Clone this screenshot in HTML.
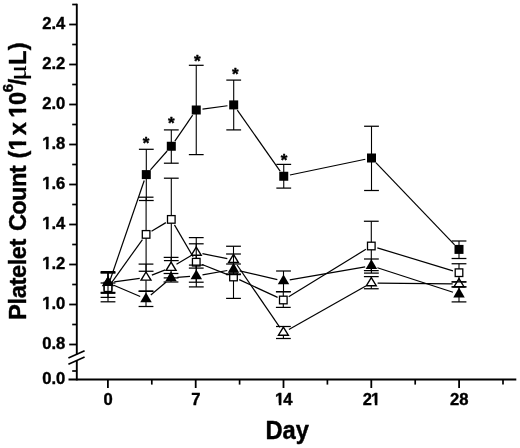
<!DOCTYPE html>
<html><head><meta charset="utf-8"><title>Platelet Count</title>
<style>
html,body{margin:0;padding:0;background:#fff;}
body{width:520px;height:448px;overflow:hidden;}
svg{display:block;filter:grayscale(1);}
text{font-family:"Liberation Sans", Arial, Helvetica, sans-serif;font-weight:bold;fill:#000;stroke:#000;stroke-width:0.4px;stroke-linejoin:round;}
.tk{font-size:16.6px;}
.ttl{font-size:23.6px;}
.ast{font-size:17px;}
</style></head><body>
<svg width="520" height="448" viewBox="0 0 520 448">
<rect width="520" height="448" fill="#fff"/>
<line x1="76.80" y1="3.80" x2="76.80" y2="354.30" stroke="#000" stroke-width="1.9" />
<line x1="76.80" y1="360.70" x2="76.80" y2="380.45" stroke="#000" stroke-width="1.9" />
<line x1="68.50" y1="379.50" x2="516.30" y2="379.50" stroke="#000" stroke-width="1.9" />
<line x1="69.20" y1="24.50" x2="76.80" y2="24.50" stroke="#000" stroke-width="1.8" />
<text x="42.23" y="29.40" class="tk">2.4</text>
<line x1="69.20" y1="64.50" x2="76.80" y2="64.50" stroke="#000" stroke-width="1.8" />
<text x="42.23" y="69.40" class="tk">2.2</text>
<line x1="69.20" y1="104.50" x2="76.80" y2="104.50" stroke="#000" stroke-width="1.8" />
<text x="42.23" y="109.40" class="tk">2.0</text>
<line x1="69.20" y1="144.50" x2="76.80" y2="144.50" stroke="#000" stroke-width="1.8" />
<text y="149.40" class="tk"><tspan x="42.23">1</tspan><tspan x="51.46">.8</tspan></text>
<rect x="42.23" y="146.99" width="3.72" height="4.11" fill="#fff"/>
<rect x="48.55" y="146.99" width="3.57" height="4.11" fill="#fff"/>
<line x1="69.20" y1="184.50" x2="76.80" y2="184.50" stroke="#000" stroke-width="1.8" />
<text y="189.40" class="tk"><tspan x="42.23">1</tspan><tspan x="51.46">.6</tspan></text>
<rect x="42.23" y="186.99" width="3.72" height="4.11" fill="#fff"/>
<rect x="48.55" y="186.99" width="3.57" height="4.11" fill="#fff"/>
<line x1="69.20" y1="224.50" x2="76.80" y2="224.50" stroke="#000" stroke-width="1.8" />
<text y="229.40" class="tk"><tspan x="42.23">1</tspan><tspan x="51.46">.4</tspan></text>
<rect x="42.23" y="226.99" width="3.72" height="4.11" fill="#fff"/>
<rect x="48.55" y="226.99" width="3.57" height="4.11" fill="#fff"/>
<line x1="69.20" y1="264.50" x2="76.80" y2="264.50" stroke="#000" stroke-width="1.8" />
<text y="269.40" class="tk"><tspan x="42.23">1</tspan><tspan x="51.46">.2</tspan></text>
<rect x="42.23" y="266.99" width="3.72" height="4.11" fill="#fff"/>
<rect x="48.55" y="266.99" width="3.57" height="4.11" fill="#fff"/>
<line x1="69.20" y1="304.50" x2="76.80" y2="304.50" stroke="#000" stroke-width="1.8" />
<text y="309.40" class="tk"><tspan x="42.23">1</tspan><tspan x="51.46">.0</tspan></text>
<rect x="42.23" y="306.99" width="3.72" height="4.11" fill="#fff"/>
<rect x="48.55" y="306.99" width="3.57" height="4.11" fill="#fff"/>
<line x1="69.20" y1="344.50" x2="76.80" y2="344.50" stroke="#000" stroke-width="1.8" />
<text x="42.23" y="349.40" class="tk">0.8</text>
<text x="42.23" y="384.40" class="tk">0.0</text>
<line x1="72.20" y1="4.50" x2="76.80" y2="4.50" stroke="#000" stroke-width="1.7" />
<line x1="72.20" y1="44.50" x2="76.80" y2="44.50" stroke="#000" stroke-width="1.7" />
<line x1="72.20" y1="84.50" x2="76.80" y2="84.50" stroke="#000" stroke-width="1.7" />
<line x1="72.20" y1="124.50" x2="76.80" y2="124.50" stroke="#000" stroke-width="1.7" />
<line x1="72.20" y1="164.50" x2="76.80" y2="164.50" stroke="#000" stroke-width="1.7" />
<line x1="72.20" y1="204.50" x2="76.80" y2="204.50" stroke="#000" stroke-width="1.7" />
<line x1="72.20" y1="244.50" x2="76.80" y2="244.50" stroke="#000" stroke-width="1.7" />
<line x1="72.20" y1="284.50" x2="76.80" y2="284.50" stroke="#000" stroke-width="1.7" />
<line x1="72.20" y1="324.50" x2="76.80" y2="324.50" stroke="#000" stroke-width="1.7" />
<line x1="72.20" y1="371.00" x2="76.80" y2="371.00" stroke="#000" stroke-width="1.7" />
<line x1="68.40" y1="358.10" x2="84.60" y2="350.70" stroke="#000" stroke-width="1.6" />
<line x1="68.40" y1="364.20" x2="84.60" y2="357.00" stroke="#000" stroke-width="1.6" />
<line x1="107.90" y1="379.50" x2="107.90" y2="388.00" stroke="#000" stroke-width="1.8" />
<text x="103.49" y="405.3" class="tk">0</text>
<line x1="195.70" y1="379.50" x2="195.70" y2="388.00" stroke="#000" stroke-width="1.8" />
<text x="191.29" y="405.3" class="tk">7</text>
<line x1="283.50" y1="379.50" x2="283.50" y2="388.00" stroke="#000" stroke-width="1.8" />
<text y="405.3" class="tk"><tspan x="275.07">1</tspan><tspan x="283.20">4</tspan></text>
<rect x="275.07" y="402.89" width="3.72" height="4.11" fill="#fff"/>
<rect x="281.39" y="402.89" width="3.15" height="4.11" fill="#fff"/>
<line x1="371.30" y1="379.50" x2="371.30" y2="388.00" stroke="#000" stroke-width="1.8" />
<text y="405.3" class="tk"><tspan x="362.67">2</tspan><tspan x="371.10">1</tspan></text>
<rect x="371.68" y="402.89" width="3.14" height="4.11" fill="#fff"/>
<rect x="377.42" y="402.89" width="3.57" height="4.11" fill="#fff"/>
<line x1="459.10" y1="379.50" x2="459.10" y2="388.00" stroke="#000" stroke-width="1.8" />
<text x="450.07" y="405.3" class="tk">28</text>
<line x1="151.80" y1="379.50" x2="151.80" y2="384.60" stroke="#000" stroke-width="1.7" />
<line x1="239.60" y1="379.50" x2="239.60" y2="384.60" stroke="#000" stroke-width="1.7" />
<line x1="327.40" y1="379.50" x2="327.40" y2="384.60" stroke="#000" stroke-width="1.7" />
<line x1="415.20" y1="379.50" x2="415.20" y2="384.60" stroke="#000" stroke-width="1.7" />
<line x1="503.00" y1="379.50" x2="503.00" y2="384.60" stroke="#000" stroke-width="1.7" />
<line x1="110.05" y1="280.24" x2="144.25" y2="180.56" stroke="#000" stroke-width="1.2" />
<line x1="150.47" y1="169.87" x2="167.13" y2="150.98" stroke="#000" stroke-width="1.2" />
<line x1="174.87" y1="141.06" x2="192.68" y2="115.19" stroke="#000" stroke-width="1.2" />
<line x1="202.49" y1="109.15" x2="227.46" y2="105.75" stroke="#000" stroke-width="1.2" />
<line x1="237.32" y1="110.06" x2="280.13" y2="171.09" stroke="#000" stroke-width="1.2" />
<line x1="289.92" y1="174.97" x2="365.33" y2="159.28" stroke="#000" stroke-width="1.2" />
<line x1="375.86" y1="162.55" x2="454.64" y2="244.85" stroke="#000" stroke-width="1.2" />
<line x1="108.00" y1="273.00" x2="108.00" y2="297.40" stroke="#000" stroke-width="1.1" />
<line x1="100.60" y1="273.00" x2="115.40" y2="273.00" stroke="#000" stroke-width="1.25" />
<line x1="100.60" y1="297.40" x2="115.40" y2="297.40" stroke="#000" stroke-width="1.25" />
<line x1="146.30" y1="149.30" x2="146.30" y2="200.50" stroke="#000" stroke-width="1.1" />
<line x1="138.90" y1="149.30" x2="153.70" y2="149.30" stroke="#000" stroke-width="1.25" />
<line x1="138.90" y1="200.50" x2="153.70" y2="200.50" stroke="#000" stroke-width="1.25" />
<line x1="171.30" y1="129.90" x2="171.30" y2="163.20" stroke="#000" stroke-width="1.1" />
<line x1="163.90" y1="129.90" x2="178.70" y2="129.90" stroke="#000" stroke-width="1.25" />
<line x1="163.90" y1="163.20" x2="178.70" y2="163.20" stroke="#000" stroke-width="1.25" />
<line x1="196.25" y1="65.30" x2="196.25" y2="154.60" stroke="#000" stroke-width="1.1" />
<line x1="188.85" y1="65.30" x2="203.65" y2="65.30" stroke="#000" stroke-width="1.25" />
<line x1="188.85" y1="154.60" x2="203.65" y2="154.60" stroke="#000" stroke-width="1.25" />
<line x1="233.70" y1="80.10" x2="233.70" y2="129.90" stroke="#000" stroke-width="1.1" />
<line x1="226.30" y1="80.10" x2="241.10" y2="80.10" stroke="#000" stroke-width="1.25" />
<line x1="226.30" y1="129.90" x2="241.10" y2="129.90" stroke="#000" stroke-width="1.25" />
<line x1="283.75" y1="164.40" x2="283.75" y2="188.10" stroke="#000" stroke-width="1.1" />
<line x1="276.35" y1="164.40" x2="291.15" y2="164.40" stroke="#000" stroke-width="1.25" />
<line x1="276.35" y1="188.10" x2="291.15" y2="188.10" stroke="#000" stroke-width="1.25" />
<line x1="371.50" y1="126.25" x2="371.50" y2="190.50" stroke="#000" stroke-width="1.1" />
<line x1="364.10" y1="126.25" x2="378.90" y2="126.25" stroke="#000" stroke-width="1.25" />
<line x1="364.10" y1="190.50" x2="378.90" y2="190.50" stroke="#000" stroke-width="1.25" />
<line x1="459.00" y1="241.00" x2="459.00" y2="258.50" stroke="#000" stroke-width="1.1" />
<line x1="451.60" y1="241.00" x2="466.40" y2="241.00" stroke="#000" stroke-width="1.25" />
<line x1="451.60" y1="258.50" x2="466.40" y2="258.50" stroke="#000" stroke-width="1.25" />
<rect x="103.50" y="281.70" width="9" height="9" fill="#000"/>
<rect x="141.80" y="170.10" width="9" height="9" fill="#000"/>
<rect x="166.80" y="141.75" width="9" height="9" fill="#000"/>
<rect x="191.75" y="105.50" width="9" height="9" fill="#000"/>
<rect x="229.20" y="100.40" width="9" height="9" fill="#000"/>
<rect x="279.25" y="171.75" width="9" height="9" fill="#000"/>
<rect x="367.00" y="153.50" width="9" height="9" fill="#000"/>
<rect x="454.50" y="244.90" width="9" height="9" fill="#000"/>
<line x1="114.24" y1="281.91" x2="139.76" y2="278.29" stroke="#000" stroke-width="1.2" />
<line x1="151.87" y1="275.11" x2="165.23" y2="269.89" stroke="#000" stroke-width="1.2" />
<line x1="176.50" y1="264.36" x2="190.85" y2="255.74" stroke="#000" stroke-width="1.2" />
<line x1="202.43" y1="253.71" x2="227.32" y2="258.59" stroke="#000" stroke-width="1.2" />
<line x1="237.07" y1="264.99" x2="279.83" y2="327.31" stroke="#000" stroke-width="1.2" />
<line x1="288.89" y1="329.41" x2="365.81" y2="286.09" stroke="#000" stroke-width="1.2" />
<line x1="377.60" y1="283.07" x2="452.70" y2="283.93" stroke="#000" stroke-width="1.2" />
<line x1="108.00" y1="283.00" x2="108.00" y2="293.30" stroke="#000" stroke-width="1.1" />
<line x1="100.60" y1="283.00" x2="115.40" y2="283.00" stroke="#000" stroke-width="1.25" />
<line x1="100.60" y1="293.30" x2="115.40" y2="293.30" stroke="#000" stroke-width="1.25" />
<line x1="146.00" y1="264.10" x2="146.00" y2="291.00" stroke="#000" stroke-width="1.1" />
<line x1="138.60" y1="264.10" x2="153.40" y2="264.10" stroke="#000" stroke-width="1.25" />
<line x1="138.60" y1="291.00" x2="153.40" y2="291.00" stroke="#000" stroke-width="1.25" />
<line x1="171.10" y1="257.40" x2="171.10" y2="277.90" stroke="#000" stroke-width="1.1" />
<line x1="163.70" y1="257.40" x2="178.50" y2="257.40" stroke="#000" stroke-width="1.25" />
<line x1="163.70" y1="277.90" x2="178.50" y2="277.90" stroke="#000" stroke-width="1.25" />
<line x1="196.25" y1="237.60" x2="196.25" y2="268.10" stroke="#000" stroke-width="1.1" />
<line x1="188.85" y1="237.60" x2="203.65" y2="237.60" stroke="#000" stroke-width="1.25" />
<line x1="188.85" y1="268.10" x2="203.65" y2="268.10" stroke="#000" stroke-width="1.25" />
<line x1="233.50" y1="246.25" x2="233.50" y2="274.00" stroke="#000" stroke-width="1.1" />
<line x1="226.10" y1="246.25" x2="240.90" y2="246.25" stroke="#000" stroke-width="1.25" />
<line x1="226.10" y1="274.00" x2="240.90" y2="274.00" stroke="#000" stroke-width="1.25" />
<line x1="283.40" y1="326.50" x2="283.40" y2="338.50" stroke="#000" stroke-width="1.1" />
<line x1="276.00" y1="326.50" x2="290.80" y2="326.50" stroke="#000" stroke-width="1.25" />
<line x1="276.00" y1="338.50" x2="290.80" y2="338.50" stroke="#000" stroke-width="1.25" />
<line x1="371.30" y1="276.60" x2="371.30" y2="288.75" stroke="#000" stroke-width="1.1" />
<line x1="363.90" y1="276.60" x2="378.70" y2="276.60" stroke="#000" stroke-width="1.25" />
<line x1="363.90" y1="288.75" x2="378.70" y2="288.75" stroke="#000" stroke-width="1.25" />
<line x1="459.00" y1="281.90" x2="459.00" y2="286.90" stroke="#000" stroke-width="1.1" />
<line x1="451.60" y1="281.90" x2="466.40" y2="281.90" stroke="#000" stroke-width="1.25" />
<line x1="451.60" y1="286.90" x2="466.40" y2="286.90" stroke="#000" stroke-width="1.25" />
<path d="M108.00 277.40 L112.95 285.55 L103.05 285.55 Z" fill="#fff" stroke="#000" stroke-width="1.4" stroke-linejoin="miter"/>
<path d="M146.00 272.00 L150.95 280.15 L141.05 280.15 Z" fill="#fff" stroke="#000" stroke-width="1.4" stroke-linejoin="miter"/>
<path d="M171.10 262.20 L176.05 270.35 L166.15 270.35 Z" fill="#fff" stroke="#000" stroke-width="1.4" stroke-linejoin="miter"/>
<path d="M196.25 247.10 L201.20 255.25 L191.30 255.25 Z" fill="#fff" stroke="#000" stroke-width="1.4" stroke-linejoin="miter"/>
<path d="M233.50 254.40 L238.45 262.55 L228.55 262.55 Z" fill="#fff" stroke="#000" stroke-width="1.4" stroke-linejoin="miter"/>
<path d="M283.40 327.10 L288.35 335.25 L278.45 335.25 Z" fill="#fff" stroke="#000" stroke-width="1.4" stroke-linejoin="miter"/>
<path d="M371.30 277.60 L376.25 285.75 L366.35 285.75 Z" fill="#fff" stroke="#000" stroke-width="1.4" stroke-linejoin="miter"/>
<path d="M459.00 278.60 L463.95 286.75 L454.05 286.75 Z" fill="#fff" stroke="#000" stroke-width="1.4" stroke-linejoin="miter"/>
<line x1="111.66" y1="282.57" x2="142.44" y2="239.53" stroke="#000" stroke-width="1.2" />
<line x1="151.51" y1="231.18" x2="165.89" y2="222.62" stroke="#000" stroke-width="1.2" />
<line x1="174.47" y1="224.84" x2="193.08" y2="256.76" stroke="#000" stroke-width="1.2" />
<line x1="202.10" y1="264.53" x2="227.65" y2="274.67" stroke="#000" stroke-width="1.2" />
<line x1="239.22" y1="279.64" x2="277.58" y2="297.36" stroke="#000" stroke-width="1.2" />
<line x1="288.67" y1="296.70" x2="365.93" y2="249.30" stroke="#000" stroke-width="1.2" />
<line x1="377.33" y1="247.83" x2="452.97" y2="270.87" stroke="#000" stroke-width="1.2" />
<line x1="108.00" y1="271.60" x2="108.00" y2="301.80" stroke="#000" stroke-width="1.1" />
<line x1="100.60" y1="271.60" x2="115.40" y2="271.60" stroke="#000" stroke-width="1.25" />
<line x1="100.60" y1="301.80" x2="115.40" y2="301.80" stroke="#000" stroke-width="1.25" />
<line x1="146.10" y1="197.20" x2="146.10" y2="271.25" stroke="#000" stroke-width="1.1" />
<line x1="138.70" y1="197.20" x2="153.50" y2="197.20" stroke="#000" stroke-width="1.25" />
<line x1="138.70" y1="271.25" x2="153.50" y2="271.25" stroke="#000" stroke-width="1.25" />
<line x1="171.30" y1="178.20" x2="171.30" y2="260.60" stroke="#000" stroke-width="1.1" />
<line x1="163.90" y1="178.20" x2="178.70" y2="178.20" stroke="#000" stroke-width="1.25" />
<line x1="163.90" y1="260.60" x2="178.70" y2="260.60" stroke="#000" stroke-width="1.25" />
<line x1="196.25" y1="243.80" x2="196.25" y2="282.20" stroke="#000" stroke-width="1.1" />
<line x1="188.85" y1="243.80" x2="203.65" y2="243.80" stroke="#000" stroke-width="1.25" />
<line x1="188.85" y1="282.20" x2="203.65" y2="282.20" stroke="#000" stroke-width="1.25" />
<line x1="233.50" y1="254.00" x2="233.50" y2="298.40" stroke="#000" stroke-width="1.1" />
<line x1="226.10" y1="254.00" x2="240.90" y2="254.00" stroke="#000" stroke-width="1.25" />
<line x1="226.10" y1="298.40" x2="240.90" y2="298.40" stroke="#000" stroke-width="1.25" />
<line x1="283.30" y1="291.80" x2="283.30" y2="307.40" stroke="#000" stroke-width="1.1" />
<line x1="275.90" y1="291.80" x2="290.70" y2="291.80" stroke="#000" stroke-width="1.25" />
<line x1="275.90" y1="307.40" x2="290.70" y2="307.40" stroke="#000" stroke-width="1.25" />
<line x1="371.30" y1="221.25" x2="371.30" y2="270.60" stroke="#000" stroke-width="1.1" />
<line x1="363.90" y1="221.25" x2="378.70" y2="221.25" stroke="#000" stroke-width="1.25" />
<line x1="363.90" y1="270.60" x2="378.70" y2="270.60" stroke="#000" stroke-width="1.25" />
<line x1="459.00" y1="263.75" x2="459.00" y2="281.90" stroke="#000" stroke-width="1.1" />
<line x1="451.60" y1="263.75" x2="466.40" y2="263.75" stroke="#000" stroke-width="1.25" />
<line x1="451.60" y1="281.90" x2="466.40" y2="281.90" stroke="#000" stroke-width="1.25" />
<rect x="104.20" y="283.90" width="7.6" height="7.6" fill="#fff" stroke="#000" stroke-width="1.3"/>
<rect x="142.30" y="230.60" width="7.6" height="7.6" fill="#fff" stroke="#000" stroke-width="1.3"/>
<rect x="167.50" y="215.60" width="7.6" height="7.6" fill="#fff" stroke="#000" stroke-width="1.3"/>
<rect x="192.45" y="258.40" width="7.6" height="7.6" fill="#fff" stroke="#000" stroke-width="1.3"/>
<rect x="229.70" y="273.20" width="7.6" height="7.6" fill="#fff" stroke="#000" stroke-width="1.3"/>
<rect x="279.50" y="296.20" width="7.6" height="7.6" fill="#fff" stroke="#000" stroke-width="1.3"/>
<rect x="367.50" y="242.20" width="7.6" height="7.6" fill="#fff" stroke="#000" stroke-width="1.3"/>
<rect x="455.20" y="268.90" width="7.6" height="7.6" fill="#fff" stroke="#000" stroke-width="1.3"/>
<line x1="113.80" y1="285.27" x2="140.20" y2="296.53" stroke="#000" stroke-width="1.2" />
<line x1="150.81" y1="294.94" x2="166.19" y2="281.96" stroke="#000" stroke-width="1.2" />
<line x1="177.28" y1="277.43" x2="190.02" y2="276.47" stroke="#000" stroke-width="1.2" />
<line x1="202.50" y1="274.90" x2="227.30" y2="270.50" stroke="#000" stroke-width="1.2" />
<line x1="239.64" y1="270.82" x2="277.36" y2="279.58" stroke="#000" stroke-width="1.2" />
<line x1="289.71" y1="279.92" x2="365.19" y2="266.83" stroke="#000" stroke-width="1.2" />
<line x1="377.39" y1="267.70" x2="453.01" y2="292.25" stroke="#000" stroke-width="1.2" />
<line x1="108.00" y1="272.60" x2="108.00" y2="292.40" stroke="#000" stroke-width="1.1" />
<line x1="100.60" y1="272.60" x2="115.40" y2="272.60" stroke="#000" stroke-width="1.25" />
<line x1="100.60" y1="292.40" x2="115.40" y2="292.40" stroke="#000" stroke-width="1.25" />
<line x1="146.00" y1="291.40" x2="146.00" y2="306.50" stroke="#000" stroke-width="1.1" />
<line x1="138.60" y1="291.40" x2="153.40" y2="291.40" stroke="#000" stroke-width="1.25" />
<line x1="138.60" y1="306.50" x2="153.40" y2="306.50" stroke="#000" stroke-width="1.25" />
<line x1="171.00" y1="273.50" x2="171.00" y2="282.00" stroke="#000" stroke-width="1.1" />
<line x1="163.60" y1="273.50" x2="178.40" y2="273.50" stroke="#000" stroke-width="1.25" />
<line x1="163.60" y1="282.00" x2="178.40" y2="282.00" stroke="#000" stroke-width="1.25" />
<line x1="196.30" y1="265.10" x2="196.30" y2="286.90" stroke="#000" stroke-width="1.1" />
<line x1="188.90" y1="265.10" x2="203.70" y2="265.10" stroke="#000" stroke-width="1.25" />
<line x1="188.90" y1="286.90" x2="203.70" y2="286.90" stroke="#000" stroke-width="1.25" />
<line x1="233.50" y1="264.00" x2="233.50" y2="274.60" stroke="#000" stroke-width="1.1" />
<line x1="226.10" y1="264.00" x2="240.90" y2="264.00" stroke="#000" stroke-width="1.25" />
<line x1="226.10" y1="274.60" x2="240.90" y2="274.60" stroke="#000" stroke-width="1.25" />
<line x1="283.50" y1="271.00" x2="283.50" y2="291.60" stroke="#000" stroke-width="1.1" />
<line x1="276.10" y1="271.00" x2="290.90" y2="271.00" stroke="#000" stroke-width="1.25" />
<line x1="276.10" y1="291.60" x2="290.90" y2="291.60" stroke="#000" stroke-width="1.25" />
<line x1="371.40" y1="259.00" x2="371.40" y2="273.10" stroke="#000" stroke-width="1.1" />
<line x1="364.00" y1="259.00" x2="378.80" y2="259.00" stroke="#000" stroke-width="1.25" />
<line x1="364.00" y1="273.10" x2="378.80" y2="273.10" stroke="#000" stroke-width="1.25" />
<line x1="459.00" y1="286.90" x2="459.00" y2="301.90" stroke="#000" stroke-width="1.1" />
<line x1="451.60" y1="286.90" x2="466.40" y2="286.90" stroke="#000" stroke-width="1.25" />
<line x1="451.60" y1="301.90" x2="466.40" y2="301.90" stroke="#000" stroke-width="1.25" />
<path d="M108.00 276.20 L113.75 286.10 L102.25 286.10 Z" fill="#000"/>
<path d="M146.00 292.40 L151.75 302.30 L140.25 302.30 Z" fill="#000"/>
<path d="M171.00 271.30 L176.75 281.20 L165.25 281.20 Z" fill="#000"/>
<path d="M196.30 269.40 L202.05 279.30 L190.55 279.30 Z" fill="#000"/>
<path d="M233.50 262.80 L239.25 272.70 L227.75 272.70 Z" fill="#000"/>
<path d="M283.50 274.40 L289.25 284.30 L277.75 284.30 Z" fill="#000"/>
<path d="M371.40 259.15 L377.15 269.05 L365.65 269.05 Z" fill="#000"/>
<path d="M459.00 287.60 L464.75 297.50 L453.25 297.50 Z" fill="#000"/>
<text x="146.00" y="148.60" text-anchor="middle" class="ast">*</text>
<text x="171.40" y="129.20" text-anchor="middle" class="ast">*</text>
<text x="197.30" y="66.60" text-anchor="middle" class="ast">*</text>
<text x="235.20" y="80.20" text-anchor="middle" class="ast">*</text>
<text x="284.00" y="165.50" text-anchor="middle" class="ast">*</text>
<text transform="translate(265.4 439.2) scale(0.99 1.04)" x="0" y="0" class="ttl" style="font-size:24px">Day</text>
<g transform="translate(25.5 0) rotate(-90)">
<text><tspan x="-319.88" y="0" style='font-weight:bold;font-size:23.6px;stroke:#000;stroke-width:0.4px;letter-spacing:-0.371px;'>Platelet</tspan> <tspan x="-231.10" y="0" style='font-weight:bold;font-size:23.6px;stroke:#000;stroke-width:0.4px;letter-spacing:-0.625px;'>Count</tspan> <tspan x="-158.61" y="0" style='font-weight:bold;font-size:23.6px;stroke:#000;stroke-width:0.4px;'>(</tspan><tspan x="-150.50" y="0" style='font-weight:bold;font-size:23.6px;stroke:#000;stroke-width:0.4px;'>1</tspan> <tspan x="-135.31" y="0" style='font-weight:bold;font-size:23.6px;stroke:#000;stroke-width:0.4px;'>x</tspan> <tspan x="-117.75" y="0" style='font-weight:bold;font-size:23.6px;stroke:#000;stroke-width:0.4px;'>1</tspan><tspan x="-104.91" y="0" style='font-weight:bold;font-size:23.6px;stroke:#000;stroke-width:0.4px;'>0</tspan><tspan x="-92.29" y="-12.4" style='font-weight:bold;font-size:15px;stroke:#000;stroke-width:0.4px;'>6</tspan><tspan x="-85.15" y="0" style='font-weight:bold;font-size:23.6px;stroke:#000;stroke-width:0.4px;'>/</tspan><tspan x="-80.65" y="0" textLength="16.09" lengthAdjust="spacingAndGlyphs" style='font-family:"Liberation Serif",serif;font-weight:normal;font-size:25px;stroke:#000;stroke-width:0.15px;'>μ</tspan><tspan x="-64.97" y="0" style='font-weight:bold;font-size:23.6px;stroke:#000;stroke-width:0.4px;'>L</tspan><tspan x="-50.31" y="0" style='font-weight:bold;font-size:23.6px;stroke:#000;stroke-width:0.4px;'>)</tspan></text>
<rect x="-150.50" y="-3.42" width="5.29" height="5.12" fill="#fff"/>
<rect x="-141.51" y="-3.42" width="5.07" height="5.12" fill="#fff"/>
<rect x="-117.75" y="-3.42" width="5.29" height="5.12" fill="#fff"/>
<rect x="-108.76" y="-3.42" width="5.07" height="5.12" fill="#fff"/>
</g>
</svg>
</body></html>
